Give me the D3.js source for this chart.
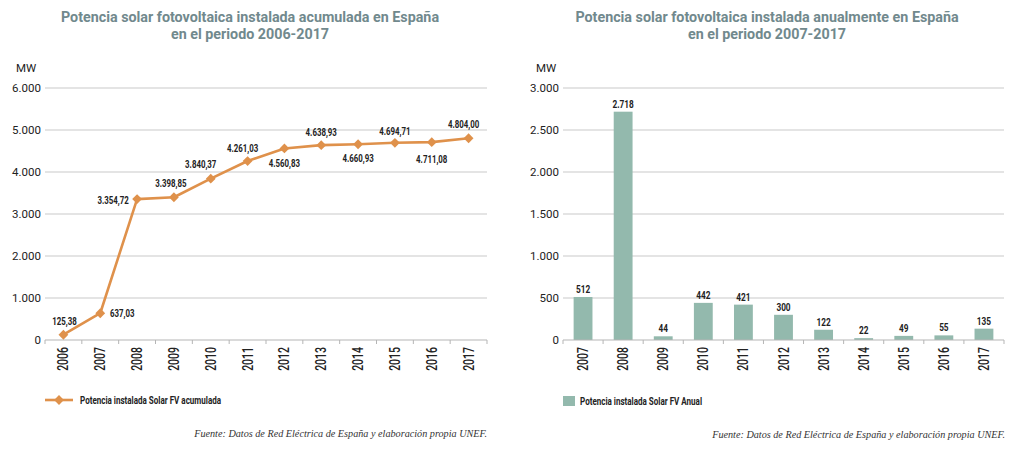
<!DOCTYPE html>
<html><head><meta charset="utf-8">
<script src="https://cdn.jsdelivr.net/npm/d3@7"></script>
<style>
body{margin:0;background:#fff;}
svg{display:block;}
.title{font-family:Roboto,"Open Sans",sans-serif;font-weight:700;fill:#71898d;font-size:14.3px;}
.ytick{font-family:Roboto,"Open Sans",sans-serif;font-size:11.5px;fill:#222;}
.cond{font-family:Roboto,sans-serif;}
.src{font-family:"Liberation Serif","DejaVu Serif",serif;font-style:italic;font-size:10.2px;fill:#333;}
</style></head>
<body>
<svg id="c" width="1018" height="456"></svg>
<script>
// ---------- DATA ----------
const yearsAcc = ["2006","2007","2008","2009","2010","2011","2012","2013","2014","2015","2016","2017"];
const accValues = [125.38, 637.03, 3354.72, 3398.85, 3840.37, 4261.03, 4560.83, 4638.93, 4660.93, 4694.71, 4711.08, 4804.00];
const accTicks = [0, 1000, 2000, 3000, 4000, 5000, 6000];
const yearsAnn = ["2007","2008","2009","2010","2011","2012","2013","2014","2015","2016","2017"];
const annValues = [512, 2718, 44, 442, 421, 300, 122, 22, 49, 55, 135];
const annTicks = [0, 500, 1000, 1500, 2000, 2500, 3000];
const titleAcc = ["Potencia solar fotovoltaica instalada acumulada en España", "en el periodo 2006-2017"];
const titleAnn = ["Potencia solar fotovoltaica instalada anualmente en España", "en el periodo 2007-2017"];
const legendAcc = "Potencia instalada Solar FV acumulada";
const legendAnn = "Potencia instalada Solar FV Anual";
const sourceText = "Fuente: Datos de Red Eléctrica de España y elaboración propia UNEF.";
const unitLabel = "MW";

// label placement (style): [dx, dy] offsets of label centre from point
const accLabelOffsets = [[1,-14],[22,0],[-24,1],[-3,-14],[-10,-14],[-5,-13],[0,15],[0,-13],[0,14],[0,-12],[0,17],[-5,-14]];

// ---------- STYLE ----------
const orange = "#df914b";
const teal = "#93b9ad";
const gridCol = "#c9c9c9";
const txt = "#222";
const condX = 0.75;

const loc = d3.formatLocale({decimal: ",", thousands: ".", grouping: [3], currency: ["", "€"]});
const fInt = loc.format(",.0f");
const fDec = loc.format(",.2f");

const svg = d3.select("#c");

function drawFrame(x0, x1, y, ticks, title, titleCx, mwX) {
  const g = svg.append("g");
  title.forEach((t, i) => {
    g.append("text").attr("class", "title").attr("x", titleCx).attr("y", 22 + i * 16.5)
      .attr("text-anchor", "middle").text(t);
  });
  g.append("text").attr("class", "ytick").attr("x", mwX).attr("y", 72).text(unitLabel);
  g.selectAll(".grid").data(ticks.filter(d => d > 0)).join("line")
    .attr("x1", x0).attr("x2", x1).attr("y1", d => y(d)).attr("y2", d => y(d))
    .attr("stroke", gridCol).attr("stroke-width", 1.2);
  g.selectAll(".yt").data(ticks).join("text").attr("class", "ytick")
    .attr("x", x0 - 4).attr("y", d => y(d)).attr("dy", "0.36em").attr("text-anchor", "end")
    .text(d => fInt(d));
  return g;
}

function drawXAxis(g, x, y0, x0, x1) {
  g.append("line").attr("x1", x0).attr("x2", x1).attr("y1", y0).attr("y2", y0)
    .attr("stroke", "#b5b5b5").attr("stroke-width", 1.2);
  const bounds = x.domain().map(d => x(d)).concat([x1]);
  g.selectAll(".xt").data(bounds).join("line")
    .attr("x1", d => d).attr("x2", d => d).attr("y1", y0).attr("y2", y0 + 4)
    .attr("stroke", "#b5b5b5");
  g.selectAll(".xl").data(x.domain()).join("text").attr("class", "cond")
    .attr("transform", d => `translate(${x(d) + x.bandwidth() / 2},${y0 + 7}) rotate(-90) scale(0.75,1)`)
    .attr("text-anchor", "end").attr("dy", "0.36em")
    .style("font-size", "14px").style("font-weight", "500").attr("fill", txt).text(d => d);
}

// ---------- LEFT: cumulative line ----------
{
  const xL0 = 45, xL1 = 487;
  const x = d3.scaleBand().domain(yearsAcc).range([xL0, xL1]);
  const y = d3.scaleLinear().domain([0, 6000]).range([340, 88]);
  const g = drawFrame(xL0, xL1, y, accTicks, titleAcc, 250, 16);
  drawXAxis(g, x, 340, xL0, xL1);
  const cx = d => x(d) + x.bandwidth() / 2;
  const pts = yearsAcc.map((yr, i) => ({yr, v: accValues[i], i}));
  g.append("path").datum(pts)
    .attr("d", d3.line().x(d => cx(d.yr)).y(d => y(d.v)))
    .attr("fill", "none").attr("stroke", orange).attr("stroke-width", 2.6).attr("stroke-linejoin", "round");
  const sym = d3.symbol().type(d3.symbolSquare).size(48);
  g.selectAll(".mk").data(pts).join("path")
    .attr("d", sym).attr("transform", d => `translate(${cx(d.yr)},${y(d.v)}) rotate(45)`)
    .attr("fill", orange);
  g.selectAll(".lb").data(pts).join("text").attr("class", "cond")
    .attr("transform", d => `translate(${cx(d.yr) + accLabelOffsets[d.i][0]},${y(d.v) + accLabelOffsets[d.i][1]}) scale(${condX},1)`)
    .attr("dy", "0.36em").attr("text-anchor", "middle")
    .style("font-size", "10.5px").style("font-weight", "700").attr("fill", txt)
    .text(d => fDec(d.v));
  g.append("line").attr("x1", 45).attr("x2", 73).attr("y1", 400).attr("y2", 400)
    .attr("stroke", orange).attr("stroke-width", 2.6);
  g.append("path").attr("d", sym).attr("transform", "translate(59,400) rotate(45)").attr("fill", orange);
  g.append("text").attr("class", "cond").attr("transform", "translate(80,400) scale(0.7,1)").attr("dy", "0.36em")
    .style("font-size", "11.5px").style("font-weight", "700").attr("fill", txt).text(legendAcc);
  g.append("text").attr("class", "src").attr("x", 487).attr("y", 437).attr("text-anchor", "end").text(sourceText);
}

// ---------- RIGHT: annual bars ----------
{
  const xR0 = 563, xR1 = 1004;
  const x = d3.scaleBand().domain(yearsAnn).range([xR0, xR1]).paddingInner(0.53).paddingOuter(0.265);
  const y = d3.scaleLinear().domain([0, 3000]).range([340, 88]);
  const g = drawFrame(xR0, xR1, y, annTicks, titleAnn, 767, 536);
  const xa = d3.scaleBand().domain(yearsAnn).range([xR0, xR1]);
  g.selectAll(".bar").data(yearsAnn).join("rect")
    .attr("x", d => x(d)).attr("width", x.bandwidth())
    .attr("y", (d, i) => y(annValues[i])).attr("height", (d, i) => 340 - y(annValues[i]))
    .attr("fill", teal);
  drawXAxis(g, xa, 340, xR0, xR1);
  g.selectAll(".bl").data(yearsAnn).join("text").attr("class", "cond")
    .attr("transform", (d, i) => `translate(${x(d) + x.bandwidth() / 2},${y(annValues[i]) - 8}) scale(${condX},1)`)
    .attr("dy", "0.36em").attr("text-anchor", "middle")
    .style("font-size", "11px").style("font-weight", "700").attr("fill", txt)
    .text((d, i) => fInt(annValues[i]));
  g.append("rect").attr("x", 563).attr("y", 396).attr("width", 12).attr("height", 10).attr("fill", teal);
  g.append("text").attr("class", "cond").attr("transform", "translate(580,401) scale(0.7,1)").attr("dy", "0.36em")
    .style("font-size", "11.5px").style("font-weight", "700").attr("fill", txt).text(legendAnn);
  g.append("text").attr("class", "src").attr("x", 1005).attr("y", 438).attr("text-anchor", "end").text(sourceText);
}
</script>
</body></html>
